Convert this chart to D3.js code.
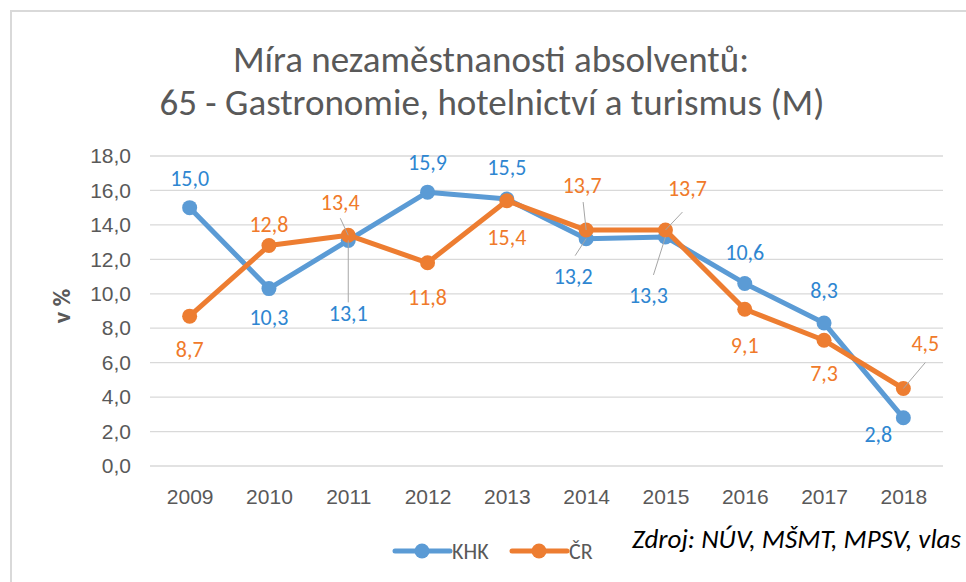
<!DOCTYPE html>
<html>
<head>
<meta charset="utf-8">
<script src="https://cdn.jsdelivr.net/npm/d3@7"></script>
<style>
  body { margin: 0; background: #fff; }
  svg { display: block; font-family: Carlito, Lato, "Open Sans", sans-serif; }
</style>
</head>
<body>
<svg id="chart" width="966" height="582"></svg>
<script>
// data
var years = ["2009","2010","2011","2012","2013","2014","2015","2016","2017","2018"];
var khk = [15.0, 10.3, 13.1, 15.9, 15.5, 13.2, 13.3, 10.6, 8.3, 2.8];
var cr  = [8.7, 12.8, 13.4, 11.8, 15.4, 13.7, 13.7, 9.1, 7.3, 4.5];
var yTicks = [0, 2, 4, 6, 8, 10, 12, 14, 16, 18];
var seriesNames = ["KHK", "ČR"];

// label offsets from point: [dx, dy, leaderStartDx, leaderStartDy] (no leader when only 2)
var khkLab = [[0,-30],[0,28],[0,73,0,-11],[0,-30],[0,-32],[-13,37,2,-20],[-17,58,5,-20],[0,-31],[0,-33],[-25,16]];
var crLab  = [[0,33],[0,-21],[-8,-33,0,16],[0,34],[0,36],[-4,-45,1,17],[22,-42,-5,24],[0,36],[0,33],[22,-45,0,19]];

var blue = "#5B9BD5", orange = "#ED7D31";
var blueTxt = "#2E86D1", orangeTxt = "#F07A2A";

var svg = d3.select("#chart");

// border (top/left visible)
svg.append("path")
  .attr("d", "M11,582 L11,11 L966,11")
  .attr("fill", "none").attr("stroke", "#d9d9d9").attr("stroke-width", 2);

var x = d3.scalePoint().domain(years).range([150, 943]).padding(0.5);
var y = d3.scaleLinear().domain([0, 18]).range([466, 156]);

// title
var title = svg.append("text").attr("text-anchor", "middle").attr("fill", "#595959").style("font-size", "37px");
title.append("tspan").attr("x", 491).attr("y", 72).text("Míra nezaměstnanosti absolventů:");
title.append("tspan").attr("x", 492).attr("y", 115).text("65 - Gastronomie, hotelnictví a turismus (M)");

// grid
svg.append("g").selectAll("line").data(yTicks).enter().append("line")
  .attr("x1", 150).attr("x2", 943)
  .attr("y1", function(d){return y(d);}).attr("y2", function(d){return y(d);})
  .attr("stroke", "#d9d9d9").attr("stroke-width", 1.3);

// y axis
var yAxis = svg.append("g").attr("transform", "translate(131,0)")
  .call(d3.axisLeft(y).tickValues(yTicks).tickSize(0).tickPadding(0)
    .tickFormat(function(d){return d3.format(".1f")(d).replace(".", ",");}));
yAxis.select(".domain").remove();
yAxis.selectAll("text").attr("fill", "#595959").style("font-size", "21px").style("font-family", null);

// x axis
var xAxis = svg.append("g").attr("transform", "translate(0,466)")
  .call(d3.axisBottom(x).tickSize(0).tickPadding(23));
xAxis.select(".domain").remove();
xAxis.selectAll("text").attr("fill", "#595959").style("font-size", "21px").style("font-family", null);

// y title
svg.append("text").attr("transform", "translate(70,306) rotate(-90)")
  .attr("text-anchor", "middle").attr("fill", "#595959")
  .style("font-size", "24px").style("font-weight", "bold").text("v %");

var line = d3.line().x(function(d,i){return x(years[i]);}).y(function(d){return y(d);});

function drawSeries(vals, color) {
  var g = svg.append("g");
  g.append("path").datum(vals).attr("d", line)
    .attr("fill", "none").attr("stroke", color).attr("stroke-width", 5)
    .attr("stroke-linejoin", "round");
  g.selectAll("circle").data(vals).enter().append("circle")
    .attr("cx", function(d,i){return x(years[i]);})
    .attr("cy", function(d){return y(d);})
    .attr("r", 7.5).attr("fill", color);
}

function drawLabels(vals, txtColor, labs) {
  var g = svg.append("g");
  vals.forEach(function(v, i) {
    var px = x(years[i]), py = y(v);
    var o = labs[i];
    var lx = px + o[0], ly = py + o[1];
    if (o.length > 2) {
      g.append("line").attr("x1", lx + o[2]).attr("y1", ly + o[3]).attr("x2", px).attr("y2", py)
        .attr("stroke", "#a6a6a6").attr("stroke-width", 1);
    }
    g.append("text").attr("x", lx).attr("y", ly).attr("dy", "0.36em")
      .attr("text-anchor", "middle").attr("fill", txtColor)
      .style("font-size", "22px").text(d3.format(".1f")(v).replace(".", ","));
  });
}

drawSeries(khk, blue);
drawSeries(cr, orange);
drawLabels(khk, blueTxt, khkLab);
drawLabels(cr, orangeTxt, crLab);

// legend
var legend = svg.append("g");
var legItems = [[395, blue, seriesNames[0]], [512, orange, seriesNames[1]]];
legItems.forEach(function(it) {
  legend.append("line").attr("x1", it[0]).attr("x2", it[0] + 55).attr("y1", 551).attr("y2", 551)
    .attr("stroke", it[1]).attr("stroke-width", 5).attr("stroke-linecap", "round");
  legend.append("circle").attr("cx", it[0] + 27).attr("cy", 551).attr("r", 7.5).attr("fill", it[1]);
  legend.append("text").attr("x", it[0] + 57).attr("y", 559).attr("fill", "#595959")
    .style("font-size", "22px").text(it[2]);
});

// source note
svg.append("text").attr("x", 632).attr("y", 548).attr("fill", "#000")
  .style("font-size", "27px").style("font-style", "italic").style("font-weight", 300)
  .text("Zdroj: NÚV, MŠMT, MPSV, vlas");
</script>
</body>
</html>
